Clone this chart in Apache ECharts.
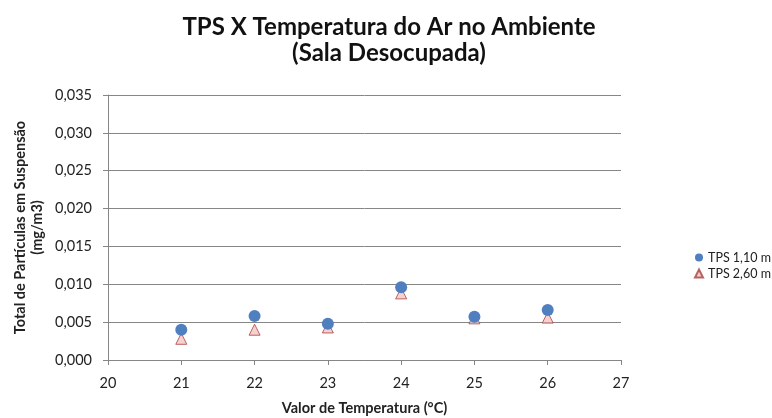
<!DOCTYPE html>
<html>
<head>
<meta charset="utf-8">
<script src="https://cdn.jsdelivr.net/npm/echarts@6/dist/echarts.min.js"></script>
<style>
  html, body { margin: 0; padding: 0; background: #fff; }
  #chart { width: 772px; height: 418px; }
</style>
</head>
<body>
<div id="chart"></div>
<script>
// temperatura (°C)
const temperaturas = [21, 22, 23, 24, 25, 26]
// TPS medido a 1,10 m e 2,60 m (mg/m3)
const tps110 = [0.0040, 0.0058, 0.0048, 0.0096, 0.0057, 0.0066]
const tps260 = [0.0028, 0.0040, 0.0043, 0.0088, 0.0055, 0.0056]

const fmt = v => v.toFixed(3).replace('.', ',')

const chart = echarts.init(document.getElementById('chart'))
chart.setOption({
  animation: false,
  textStyle: { fontFamily: 'Lato' },
  title: {
    text: 'TPS X Temperatura do Ar no Ambiente\n(Sala Desocupada)',
    left: 384,
    textAlign: 'center',
    top: 9,
    textStyle: {
      fontFamily: 'Lato',
      fontSize: 24,
      fontWeight: 'bold',
      color: '#111',
      lineHeight: 26
    }
  },
  legend: {
    orient: 'vertical',
    left: 689,
    top: 246,
    itemWidth: 8,
    itemHeight: 8,
    itemGap: 3,
    textStyle: { fontSize: 12.5, color: '#222' },
    data: ['TPS 1,10 m', 'TPS 2,60 m']
  },
  grid: { left: 108, right: 151, top: 95, bottom: 58, outerBoundsMode: 'none' },
  xAxis: {
    type: 'value',
    min: 20,
    max: 27,
    interval: 1,
    name: 'Valor de Temperatura (°C)',
    nameLocation: 'middle',
    nameGap: 41,
    nameMoveOverlap: false,
    nameTextStyle: { fontSize: 14.5, fontWeight: 'bold', color: '#222' },
    axisLine: { lineStyle: { color: '#868686' } },
    axisTick: { show: true, length: 5, lineStyle: { color: '#868686' } },
    axisLabel: { fontSize: 14.5, color: '#222', margin: 16 },
    splitLine: { show: false }
  },
  yAxis: {
    type: 'value',
    min: 0,
    max: 0.035,
    interval: 0.005,
    name: 'Total de Partículas em Suspensão\n(mg/m3)',
    nameLocation: 'middle',
    nameGap: 62,
    nameMoveOverlap: false,
    nameTextStyle: { fontSize: 14.5, fontWeight: 'bold', color: '#222', lineHeight: 17 },
    axisLine: { show: true, lineStyle: { color: '#868686' } },
    axisTick: { show: true, length: 5, lineStyle: { color: '#868686' } },
    axisLabel: { fontSize: 14.5, color: '#222', margin: 16, formatter: fmt },
    splitLine: { lineStyle: { color: '#868686', width: 1 } }
  },
  series: [
    {
      name: 'TPS 2,60 m',
      type: 'scatter',
      symbol: 'triangle',
      symbolSize: 11,
      itemStyle: { color: '#f4c6c4', borderColor: '#a8413f', borderWidth: 1 },
      data: temperaturas.map((t, i) => [t, tps260[i]])
    },
    {
      name: 'TPS 1,10 m',
      type: 'scatter',
      symbol: 'circle',
      symbolSize: 12,
      itemStyle: { color: '#4f7fbf', opacity: 1 },
      data: temperaturas.map((t, i) => [t, tps110[i]])
    }
  ]
})
</script>
</body>
</html>
